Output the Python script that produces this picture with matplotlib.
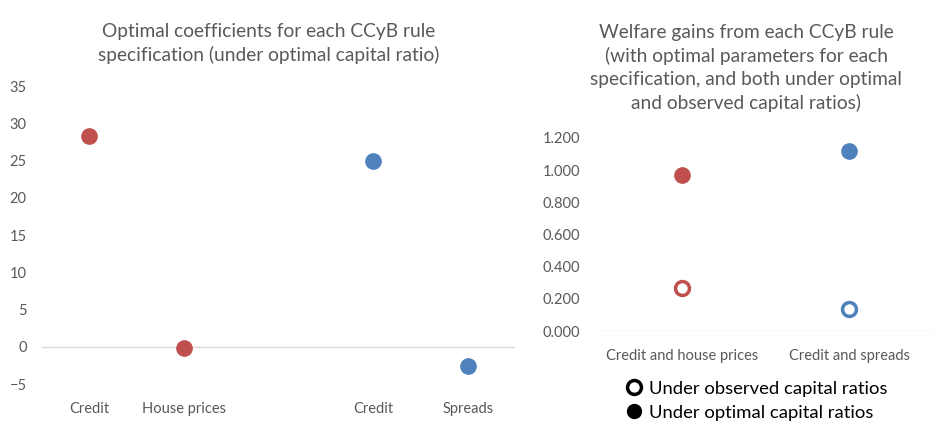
import matplotlib.pyplot as plt
from matplotlib.lines import Line2D

plt.rcParams['font.family'] = ['Lato', 'DejaVu Sans']

# left panel: optimal coefficients
coef_labels = ['Credit', 'House prices', '', 'Credit', 'Spreads']
coef_pos = [0, 1, 3, 4]
coef_vals = [28.3, -0.1, 25.0, -2.6]
coef_cols = ['#C0504D', '#C0504D', '#4F81BD', '#4F81BD']

# right panel: welfare gains
gain_labels = ['Credit and house prices', 'Credit and spreads']
gain_optimal = [0.97, 1.12]
gain_observed = [0.27, 0.14]
gain_cols = ['#C0504D', '#4F81BD']

grey = '#595959'

fig = plt.figure(figsize=(9.35, 4.24), dpi=100)

ax1 = fig.add_axes([0.045, 0.094, 0.506, 0.703])
for x, v, c in zip(coef_pos, coef_vals, coef_cols):
    ax1.plot(x, v, 'o', color=c, markersize=11, zorder=3)
ax1.axhline(0, color='#D9D9D9', lw=1, zorder=1)
ax1.set_xlim(-0.5, 4.5)
ax1.set_ylim(-5, 35)
ax1.set_yticks(range(-5, 36, 5))
ax1.set_xticks(range(5))
ax1.set_xticklabels(coef_labels)
for s in ax1.spines.values():
    s.set_visible(False)
ax1.tick_params(length=0, colors=grey, labelsize=10.5)
ax1.tick_params(axis='x', pad=13)
ax1.tick_params(axis='y', pad=11)
fig.text(0.287, 0.897, 'Optimal coefficients for each CCyB rule\nspecification (under optimal capital ratio)',
         ha='center', va='center', color=grey, fontsize=13.8, linespacing=1.4)

ax2 = fig.add_axes([0.640, 0.219, 0.358, 0.456])
ax2.axhline(0, color='#D9D9D9', lw=1, zorder=1)
for i in range(len(gain_labels)):
    ax2.plot(i, gain_optimal[i], 'o', color=gain_cols[i], markersize=11, zorder=3)
    ax2.plot(i, gain_observed[i], 'o', markerfacecolor='white', markeredgecolor=gain_cols[i],
             markeredgewidth=2.5, markersize=10, zorder=3)
ax2.set_xlim(-0.5, 1.5)
ax2.set_ylim(0, 1.2)
ax2.set_yticks([0, 0.2, 0.4, 0.6, 0.8, 1.0, 1.2])
ax2.set_yticklabels(['%.3f' % t for t in ax2.get_yticks()])
ax2.set_xticks(range(len(gain_labels)))
ax2.set_xticklabels(gain_labels)
for s in ax2.spines.values():
    s.set_visible(False)
ax2.tick_params(length=0, colors=grey, labelsize=10.5)
ax2.tick_params(axis='x', pad=13)
ax2.tick_params(axis='y', pad=13)
fig.text(0.798, 0.84, 'Welfare gains from each CCyB rule\n(with optimal parameters for each\n'
         'specification, and both under optimal\nand observed capital ratios)',
         ha='center', va='center', color=grey, fontsize=13.8, linespacing=1.42)

handles = [Line2D([], [], marker='o', ls='', markerfacecolor='white', markeredgecolor='black',
                  markeredgewidth=2.5, markersize=10),
           Line2D([], [], marker='o', ls='', color='black', markersize=10)]
fig.legend(handles, ['Under observed capital ratios', 'Under optimal capital ratios'],
           loc='upper left', bbox_to_anchor=(0.66, 0.12), frameon=False,
           fontsize=13.3, handletextpad=0.3, labelspacing=0.45, handlelength=1.0,
           borderaxespad=0)

fig.savefig('out.png', dpi=100)
